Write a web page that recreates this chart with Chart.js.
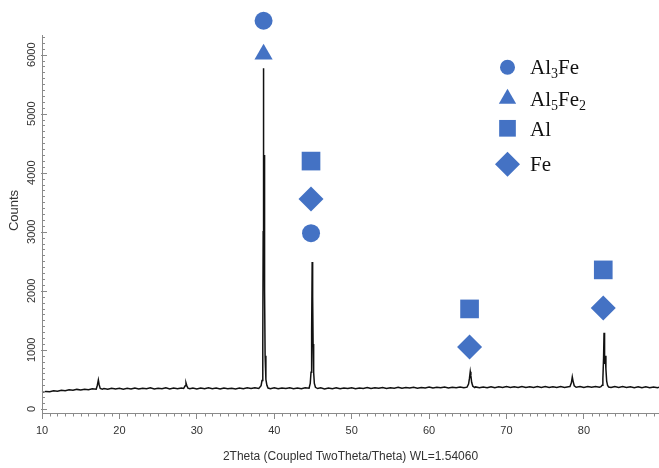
<!DOCTYPE html>
<html><head><meta charset="utf-8">
<script src="https://cdn.jsdelivr.net/npm/chart.js@4/dist/chart.umd.min.js"></script>
<style>html,body{margin:0;padding:0;background:#fff}#wrap{width:659px;height:468px;position:relative}</style>
</head><body><div id="wrap"><canvas id="c" width="659" height="468"></canvas></div>
<script>
// ---- data ----
const scan = [[10.0,280],[10.5,296],[11.0,290],[11.5,306],[12.0,300],[12.5,316],[13.0,308],[13.5,322],[14.0,314],[14.5,330],[15.0,320],[15.5,334],[16.0,326],[16.5,340],[17.0,332],[17.15,400],[17.28,490],[17.38,410],[17.52,346],[17.8,334],[18.0,346],[18.5,332],[19.0,348],[19.5,336],[20.0,350],[20.5,334],[21.0,348],[21.5,338],[22.0,354],[22.5,336],[23.0,350],[23.5,340],[24.0,356],[24.5,338],[25.0,350],[25.5,342],[26.0,356],[26.5,338],[27.0,352],[27.5,340],[28.0,354],[28.3,346],[28.5,392],[28.6,440],[28.7,396],[28.85,352],[29.1,340],[29.5,354],[30.0,338],[30.5,354],[31.0,342],[31.5,358],[32.0,340],[32.5,352],[33.0,338],[33.5,354],[34.0,342],[34.5,350],[35.0,338],[35.5,354],[36.0,342],[36.5,356],[37.0,344],[37.5,358],[38.0,346],[38.3,392],[38.42,480],[38.52,1100],[38.57,3000],[38.6,5770],[38.64,3200],[38.7,4300],[38.75,2000],[38.82,900],[38.92,500],[39.05,400],[39.2,352],[39.5,340],[40.0,356],[40.5,340],[41.0,354],[41.5,344],[42.0,358],[42.5,342],[43.0,352],[43.5,340],[44.0,356],[44.5,350],[44.65,430],[44.75,620],[44.83,1300],[44.9,2487],[44.96,1900],[45.02,1100],[45.09,620],[45.18,430],[45.32,365],[45.6,344],[46.0,356],[46.5,338],[47.0,354],[47.5,342],[48.0,358],[48.5,340],[49.0,352],[49.5,344],[50.0,358],[50.5,342],[51.0,354],[51.5,346],[52.0,360],[52.5,344],[53.0,356],[53.5,348],[54.0,362],[54.5,346],[55.0,358],[55.5,350],[56.0,364],[56.5,348],[57.0,360],[57.5,352],[58.0,366],[58.5,350],[59.0,362],[59.5,354],[60.0,368],[60.5,352],[61.0,364],[61.5,356],[62.0,370],[62.5,354],[63.0,366],[63.5,358],[64.0,372],[64.5,356],[64.9,368],[65.1,420],[65.22,520],[65.32,630],[65.4,560],[65.5,450],[65.65,384],[65.9,360],[66.0,372],[66.5,358],[67.0,372],[67.5,360],[68.0,376],[68.5,360],[69.0,374],[69.5,362],[70.0,378],[70.5,362],[71.0,376],[71.5,364],[72.0,380],[72.5,364],[73.0,376],[73.5,362],[74.0,378],[74.5,364],[75.0,378],[75.5,362],[76.0,376],[76.5,364],[77.0,378],[77.5,362],[78.0,376],[78.2,378],[78.38,440],[78.5,540],[78.6,470],[78.75,392],[79.0,366],[79.5,378],[80.0,364],[80.5,378],[81.0,366],[81.5,380],[82.0,368],[82.2,376],[82.35,400],[82.45,510],[82.54,860],[82.6,1290],[82.67,760],[82.76,900],[82.84,680],[82.94,470],[83.06,395],[83.2,370],[83.5,362],[84.0,378],[84.5,364],[85.0,378],[85.5,362],[86.0,376],[86.5,360],[87.0,374],[87.5,360],[88.0,374],[88.5,358],[89.0,372],[89.5,358],[89.7,366]];

const al3feTheta = [38.62, 44.75];   const al3feCounts = [6574, 2975];
const al5fe2Theta = [38.62];         const al5fe2Counts = [6007];
const alTheta = [44.75, 65.23, 82.5]; const alCounts = [4197, 1693, 2354];
const feTheta = [44.75, 65.23, 82.5]; const feCounts = [3553, 1050, 1710];

const legendNames = ['Al3Fe', 'Al5Fe2', 'Al', 'Fe'];
const xTickValues = [10, 20, 30, 40, 50, 60, 70, 80];
const yTickValues = [0, 1000, 2000, 3000, 4000, 5000, 6000];
const xTitle = '2Theta (Coupled TwoTheta/Theta) WL=1.54060';
const yTitle = 'Counts';
const yAxisTop = 6340;   // where the drawn count axis ends

// ---- styles ----
const BLUE = '#4472C4';
const AXIS = '#8a8a8a';
const tickFont = "'Liberation Sans Narrow', 'Liberation Sans', Arial, sans-serif";
const toPts = (xs, ys) => xs.map((v, i) => ({x: v, y: ys[i]}));

function shape(ctx, style, r, x, y) {
  ctx.beginPath();
  if (style === 'circle') { ctx.arc(x, y, r, 0, Math.PI * 2); }
  else if (style === 'triangle') {
    ctx.moveTo(x, y - r); ctx.lineTo(x + 0.866 * r, y + 0.5 * r); ctx.lineTo(x - 0.866 * r, y + 0.5 * r); ctx.closePath();
  } else if (style === 'rect') {
    const h = r * Math.SQRT1_2; ctx.rect(x - h, y - h, 2 * h, 2 * h);
  } else if (style === 'rectRot') {
    ctx.moveTo(x - r, y); ctx.lineTo(x, y - r); ctx.lineTo(x + r, y); ctx.lineTo(x, y + r); ctx.closePath();
  }
  ctx.fill();
}

const axisTicks = {
  id: 'axisTicks',
  afterDraw(chart) {
    const {ctx, chartArea: a} = chart; const x = chart.scales.x, y = chart.scales.y;
    ctx.save(); ctx.strokeStyle = AXIS; ctx.lineWidth = 1; ctx.beginPath();
    const ax = Math.round(a.left) + 0.5;
    ctx.moveTo(ax, a.bottom); ctx.lineTo(ax, Math.round(y.getPixelForValue(yAxisTop)));
    for (let v = 11; v <= 89; v += 1) {
      if (v % 10 === 0) continue;
      const px = Math.round(x.getPixelForValue(v)) + 0.5;
      ctx.moveTo(px, a.bottom); ctx.lineTo(px, a.bottom + 3.5);
    }
    for (let v = 0; v <= 6300; v += 100) {
      const py = Math.round(y.getPixelForValue(v)) + 0.5;
      const major = v % 1000 === 0;
      ctx.moveTo(a.left - (major ? 1 : 0), py); ctx.lineTo(a.left + (major ? 5 : 3), py);
    }
    ctx.stroke(); ctx.restore();
  }
};

const legendStyles = [
  {style: 'circle', r: 7.5},
  {style: 'triangle', r: 10},
  {style: 'rect', r: 11.8},
  {style: 'rectRot', r: 12.5}
];
const phaseLegend = {
  id: 'phaseLegend',
  afterDraw(chart) {
    const ctx = chart.ctx;
    const markerX = 507.5, textX = 530;
    const markerY = [67.2, 98.8, 128.3, 164.2];
    const baseY = [73.5, 105.5, 136, 170.5];
    ctx.save();
    legendNames.forEach((name, i) => {
      ctx.fillStyle = BLUE;
      shape(ctx, legendStyles[i].style, legendStyles[i].r, markerX, markerY[i]);
      ctx.fillStyle = '#111';
      ctx.textBaseline = 'alphabetic'; ctx.textAlign = 'left';
      let cx = textX;
      const runs = name.match(/[A-Za-z]+|[0-9]+/g);
      runs.forEach(run => {
        const sub = /^[0-9]+$/.test(run);
        ctx.font = sub ? "14px 'Liberation Serif', 'Times New Roman', serif" : "21px 'Liberation Serif', 'Times New Roman', serif";
        ctx.fillText(run, cx, baseY[i] + (sub ? 4 : 0));
        cx += ctx.measureText(run).width;
      });
    });
    ctx.restore();
  }
};

const markerDs = (label, xs, ys, style, r) => ({
  type: 'scatter', label, data: toPts(xs, ys), pointStyle: style, pointRadius: r,
  pointBackgroundColor: BLUE, pointBorderColor: BLUE, pointBorderWidth: 0, clip: false, order: 0
});

new Chart(document.getElementById('c'), {
  type: 'line',
  data: {
    datasets: [
      {type: 'line', label: 'scan', data: scan, borderColor: '#111', borderWidth: 1.5, pointRadius: 0, tension: 0, order: 5, clip: false},
      markerDs('Al3Fe', al3feTheta, al3feCounts, 'circle', 9),
      markerDs('Al5Fe2', al5fe2Theta, al5fe2Counts, 'triangle', 10.5),
      markerDs('Al', alTheta, alCounts, 'rect', 13.2),
      markerDs('Fe', feTheta, feCounts, 'rectRot', 12.5)
    ]
  },
  options: {
    responsive: false, animation: false, devicePixelRatio: 1, events: [],
    layout: {autoPadding: false, padding: {top: 8, left: 0, right: 0, bottom: 0}},
    plugins: {legend: {display: false}, tooltip: {enabled: false}},
    scales: {
      x: {
        type: 'linear', min: 10, max: 89.7,
        afterBuildTicks: s => { s.ticks = xTickValues.map(v => ({value: v})); },
        afterFit: s => { s.height = 55; s.paddingLeft = 0; s.paddingRight = 0; },
        grid: {display: true, drawOnChartArea: false, drawTicks: true, tickLength: 6, color: AXIS},
        border: {display: true, color: AXIS, width: 1},
        ticks: {font: {family: tickFont, size: 11}, color: '#333', padding: 5, maxRotation: 0, autoSkip: false,
                callback: v => String(v)},
        title: {display: true, text: xTitle, font: {family: tickFont, size: 12}, color: '#333', padding: {top: 0, bottom: 4}}
      },
      y: {
        type: 'linear', min: -70, max: 6790,
        afterBuildTicks: s => { s.ticks = yTickValues.map(v => ({value: v})); },
        afterFit: s => { s.width = 42; s.paddingTop = 0; s.paddingBottom = 0; },
        grid: {display: false, drawOnChartArea: false, drawTicks: false},
        border: {display: false},
        ticks: {minRotation: 90, maxRotation: 90, crossAlign: 'center', padding: -2, autoSkip: false,
                font: {family: tickFont, size: 11}, color: '#333', callback: v => String(v)},
        title: {display: true, text: yTitle, font: {family: "'Liberation Sans', Arial, sans-serif", size: 13}, color: '#333', padding: {top: 7, bottom: 0}}
      }
    }
  },
  plugins: [axisTicks, phaseLegend]
});
</script>
</body></html>
